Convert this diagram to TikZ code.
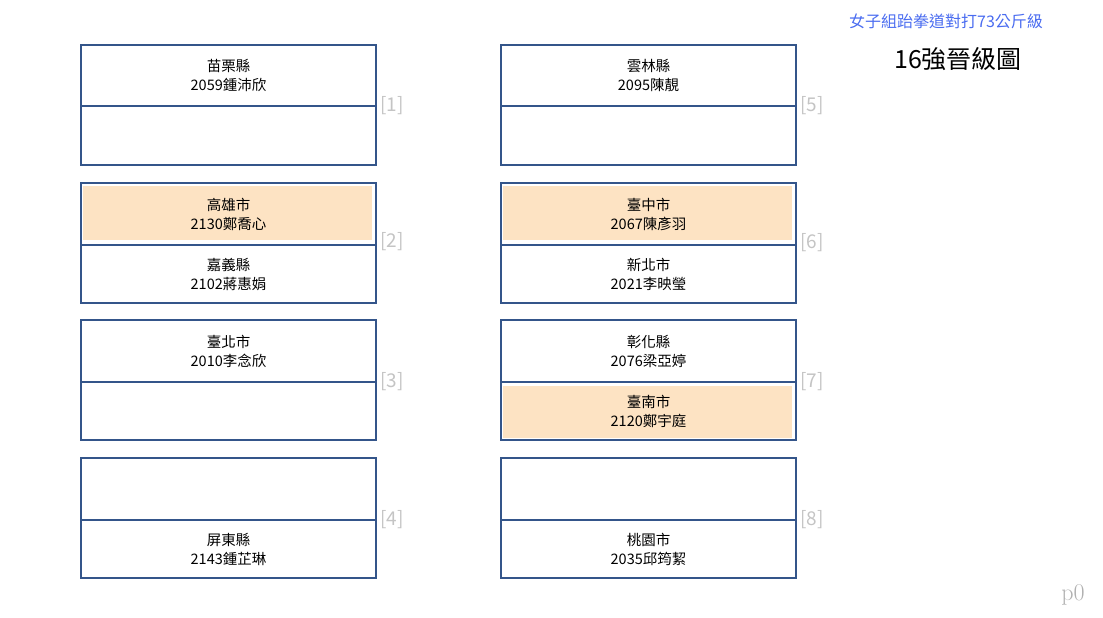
\documentclass[tikz,border=0pt]{standalone}
\usepackage{fontspec}
\newfontfamily\cjk{Noto Sans CJK TC}
\usetikzlibrary{backgrounds}
\definecolor{boxblue}{HTML}{34558A}
\definecolor{winfill}{HTML}{FDE3C3}
\definecolor{labgray}{HTML}{C4C4C4}
\definecolor{titleblue}{HTML}{4A6CF0}
\tikzset{
  half/.style={draw=boxblue,line width=2pt,minimum width=295pt,minimum height=#1,
    inner sep=0pt,outer sep=0pt,align=center,anchor=north west,
    font=\cjk\fontsize{14.5}{19}\selectfont},
  winbox/.style={fill=winfill,minimum width=289pt,minimum height=54pt,inner sep=0pt},
  lab/.style={text=labgray,anchor=west,inner sep=0pt,font=\cjk\fontsize{19}{19}\selectfont},
}
\begin{document}
\begin{tikzpicture}[x=1pt,y=-1pt]
\useasboundingbox (0,0) rectangle (1103,618);
% left column
\node[half=61pt] (b1t) at (81,45) {苗栗縣\\2059鍾沛欣};
\node[half=59pt] (b1b) at (b1t.south west) {};
\node[half=62pt] (b2t) at (81,183) {高雄市\\2130鄭喬心};
\node[half=58pt] (b2b) at (b2t.south west) {嘉義縣\\2102蔣惠娟};
\node[half=62pt] (b3t) at (81,320) {臺北市\\2010李念欣};
\node[half=58pt] (b3b) at (b3t.south west) {};
\node[half=62pt] (b4t) at (81,458) {};
\node[half=58pt] (b4b) at (b4t.south west) {屏東縣\\2143鍾芷琳};
% right column
\node[half=61pt] (b5t) at (501,45) {雲林縣\\2095陳靚};
\node[half=59pt] (b5b) at (b5t.south west) {};
\node[half=62pt] (b6t) at (501,183) {臺中市\\2067陳彥羽};
\node[half=58pt] (b6b) at (b6t.south west) {新北市\\2021李映瑩};
\node[half=62pt] (b7t) at (501,320) {彰化縣\\2076梁亞婷};
\node[half=58pt] (b7b) at (b7t.south west) {臺南市\\2120鄭宇庭};
\node[half=62pt] (b8t) at (501,458) {};
\node[half=58pt] (b8b) at (b8t.south west) {桃園市\\2035邱筠絜};
% winners
\begin{scope}[on background layer]
\node[winbox] (w2) at ([xshift=-1pt,yshift=1pt]b2t.center) {};
\node[winbox] (w6) at ([xshift=-1pt,yshift=1pt]b6t.center) {};
\node[winbox,minimum height=52pt] (w7) at ([xshift=-1pt,yshift=-1pt]b7b.center) {};
\end{scope}
% labels
\node[lab] (l1) at ([xshift=4pt]b1t.south east) {[1]};
\node[lab] (l2) at ([xshift=4pt,yshift=3pt]b2t.south east) {[2]};
\node[lab] (l3) at ([xshift=4pt]b3t.south east) {[3]};
\node[lab] (l4) at ([xshift=4pt]b4t.south east) {[4]};
\node[lab] (l5) at ([xshift=4pt]b5t.south east) {[5]};
\node[lab] (l6) at ([xshift=4pt,yshift=2pt]b6t.south east) {[6]};
\node[lab] (l7) at ([xshift=4pt]b7t.south east) {[7]};
\node[lab] (l8) at ([xshift=4pt]b8t.south east) {[8]};
% titles
\node[text=titleblue,font=\cjk\fontsize{16}{16}\selectfont] (t1) at (946,21) {女子組跆拳道對打73公斤級};
\node[font=\cjk\fontsize{25}{25}\selectfont] (t2) at (958,59) {16強晉級圖};
\node[text=labgray!90!black,font=\fontsize{24}{24}\selectfont] (p0) at (1073,595) {p0};
\end{tikzpicture}
\end{document}
